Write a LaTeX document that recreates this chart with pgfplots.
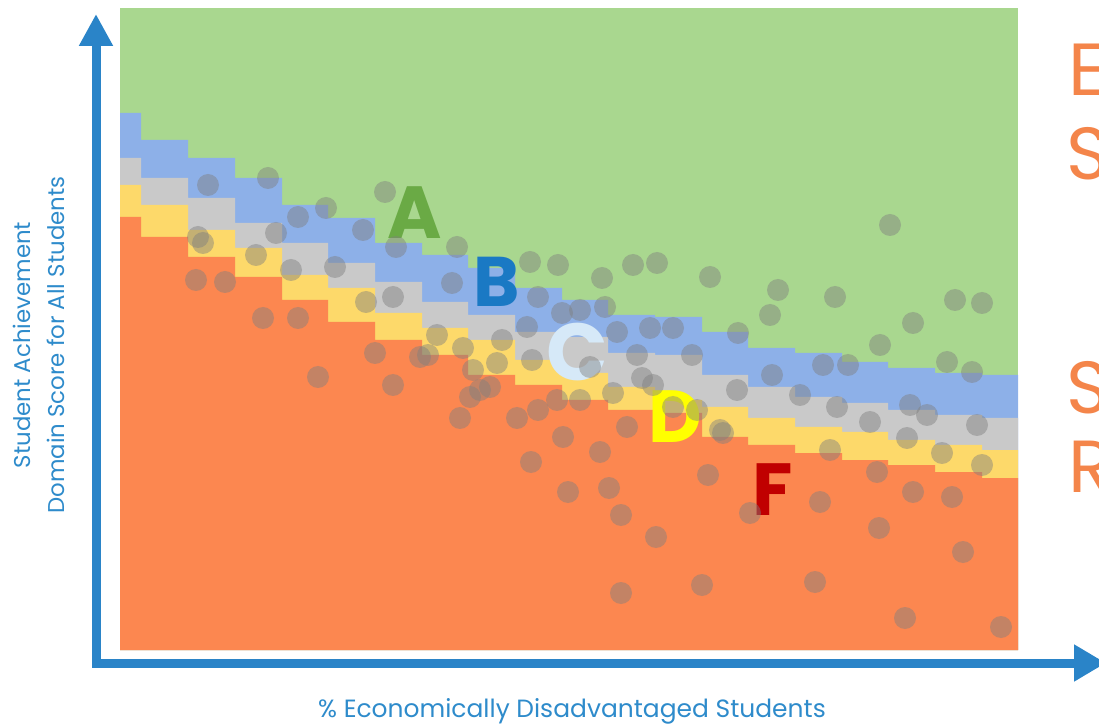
\documentclass[border=0pt]{standalone}
\usepackage{fontspec}
\setmainfont{Poppins}
\usepackage{pgfplots}
\usepackage{pgfplotstable}
\pgfplotsset{compat=1.18}
\usetikzlibrary{arrows.meta}

\definecolor{bandA}{HTML}{A9D78F}
\definecolor{bandB}{HTML}{8DB0E8}
\definecolor{bandC}{HTML}{C9C9C9}
\definecolor{bandD}{HTML}{FDD96A}
\definecolor{bandF}{HTML}{FC8750}
\definecolor{axblue}{HTML}{2A84C8}
\definecolor{labblue}{HTML}{2E8BCB}
\definecolor{ltrA}{HTML}{6AAA45}
\definecolor{ltrB}{HTML}{1A79C4}
\definecolor{ltrC}{HTML}{D6E9F8}
\definecolor{ltrD}{HTML}{FFFF00}
\definecolor{ltrF}{HTML}{C00000}
\definecolor{sideor}{HTML}{F4854A}
\definecolor{dotgray}{HTML}{7F7F7F}

% top edge of each band (B, C, D, F) per step, in picture units
\pgfplotstableread{
x    b   c   d   f
120 113 158 185 217
141 140 178 205 237
188 158 198 230 257
235 178 223 248 277
282 205 243 275 300
328 218 263 288 322
375 243 282 313 340
422 255 302 328 355
468 268 315 340 375
515 288 332 360 385
562 300 337 373 400
608 315 353 387 410
655 317 355 400 413
702 332 375 407 437
748 348 387 418 445
795 353 397 427 453
842 362 403 432 460
888 368 410 440 465
935 373 415 445 472
982 375 418 450 478
1018 375 418 450 478
}\bands

\pgfplotstableread{
x y
208 185
268 178
385 192
298 217
326 208
363 230
396 247
198 237
203 243
276 233
256 255
291 270
335 267
196 280
225 282
366 302
393 297
263 318
298 318
318 377
375 353
393 385
420 357
457 247
530 262
558 265
602 278
633 265
657 263
710 277
452 283
538 297
562 313
580 310
605 307
527 327
617 332
650 328
673 328
692 355
502 340
437 335
463 348
428 355
637 355
497 363
532 360
473 370
642 378
590 367
613 393
653 385
673 407
697 410
720 430
480 390
490 387
470 397
460 418
517 418
538 410
557 400
580 400
563 437
627 427
778 290
835 297
955 300
982 303
770 315
913 323
738 333
880 345
947 362
972 372
823 365
848 365
772 375
737 390
800 395
837 407
910 405
927 415
870 422
977 425
723 433
907 438
830 450
942 453
982 465
877 472
913 492
952 497
820 502
750 513
890 225
531 462
600 452
708 475
568 492
609 488
621 515
656 537
963 552
621 593
702 585
815 582
905 618
1001 627
879 528
}\schools

\begin{document}
\begin{tikzpicture}
\useasboundingbox (0,0) rectangle (109.9mm,72.7mm);
\clip (0,0) rectangle (109.9mm,72.7mm);
\begin{axis}[
    at={(0,0)}, anchor=south west,
    width=109.9mm, height=72.7mm,
    scale only axis,
    hide axis,
    clip=false,
    xmin=0, xmax=1099,
    ymin=0, ymax=727,
    y dir=reverse,
]
% bands
\addplot[fill=bandA, draw=none] coordinates {(120,8) (1018,8) (1018,650) (120,650)} -- cycle;
\addplot[fill=bandB, draw=none, const plot] table[x=x, y=b] {\bands} -- (axis cs:1018,650) -- (axis cs:120,650) -- cycle;
\addplot[fill=bandC, draw=none, const plot] table[x=x, y=c] {\bands} -- (axis cs:1018,650) -- (axis cs:120,650) -- cycle;
\addplot[fill=bandD, draw=none, const plot] table[x=x, y=d] {\bands} -- (axis cs:1018,650) -- (axis cs:120,650) -- cycle;
\addplot[fill=bandF, draw=none, const plot] table[x=x, y=f] {\bands} -- (axis cs:1018,650) -- (axis cs:120,650) -- cycle;

% schools
\addplot[only marks, mark=*, mark size=1.1mm, color=dotgray,
    mark options={fill=dotgray, fill opacity=0.45, draw opacity=0}] table[x=x, y=y] {\schools};

% grade letters
\node[text=ltrA, font=\fontsize{21}{21}\selectfont\bfseries] at (axis cs:415,213) {A};
\node[text=ltrB, font=\fontsize{20}{20}\selectfont\bfseries] at (axis cs:497,282) {B};
\node[text=ltrC, font=\fontsize{23}{23}\selectfont\bfseries] at (axis cs:577,352) {C};
\node[text=ltrD, font=\fontsize{21}{21}\selectfont\bfseries] at (axis cs:675,417) {D};
\node[text=ltrF, font=\fontsize{21}{21}\selectfont\bfseries] at (axis cs:773,490) {F};

% axes arrows
\draw[axblue, line width=0.9mm, line join=miter,
    {Triangle[length=3.2mm, width=3.2mm]}-{Triangle[length=3.2mm, width=3.5mm]}]
    (axis cs:96,14) -- (axis cs:96,663) -- (axis cs:1106,663);

% labels
\node[text=labblue, font=\fontsize{7.1}{8}\selectfont] at (axis cs:572,711) {\% Economically Disadvantaged Students};
\node[text=labblue, rotate=90, align=center, font=\fontsize{6.5}{9.6}\selectfont] at (axis cs:39,345)
    {Student Achievement\\Domain Score for All Students};

% cut-off side text
\node[anchor=base west, text=sideor, inner sep=0pt, font=\fontsize{21}{21}\selectfont] at (axis cs:1068,96) {E};
\node[anchor=base west, text=sideor, inner sep=0pt, font=\fontsize{21}{21}\selectfont] at (axis cs:1066,180) {S};
\node[anchor=base west, text=sideor, inner sep=0pt, font=\fontsize{21}{21}\selectfont] at (axis cs:1066,413) {S};
\node[anchor=base west, text=sideor, inner sep=0pt, font=\fontsize{21}{21}\selectfont] at (axis cs:1068,493) {R};
\end{axis}
\end{tikzpicture}
\end{document}
